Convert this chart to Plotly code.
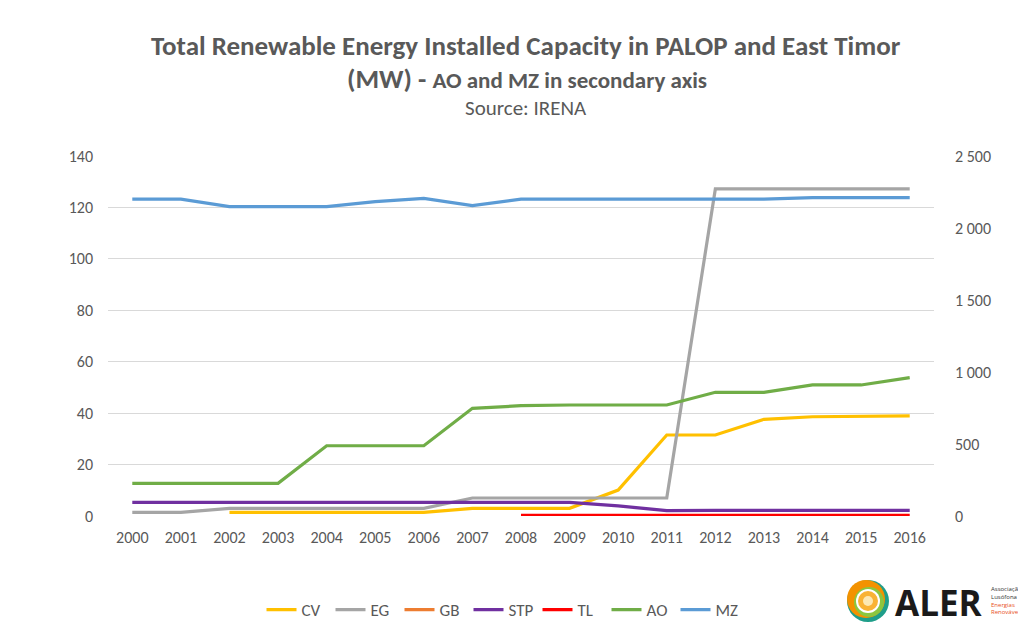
import plotly.graph_objects as go

years = [str(y) for y in range(2000, 2017)]

cv = [None, None, 1.4, 1.4, 1.4, 1.4, 1.4, 3.0, 3.0, 3.0, 10.1, 31.5, 31.5, 37.6, 38.6, 38.9, 38.9]
eg = [1.4, 1.4, 3.0, 3.0, 3.0, 3.0, 3.0, 7.0, 7.0, 7.0, 7.0, 7.0, 127.2, 127.2, 127.2, 127.2, 127.2]
gb = [None] * 17
stp = [5.3, 5.3, 5.3, 5.3, 5.3, 5.3, 5.3, 5.3, 5.3, 5.3, 3.9, 2.1, 2.2, 2.2, 2.2, 2.2, 2.2]
tl = [None, None, None, None, None, None, None, None, 0.3, 0.3, 0.3, 0.3, 0.3, 0.3, 0.3, 0.3, 0.3]
ao = [227, 227, 227, 227, 488, 488, 488, 748, 766, 771, 771, 771, 859, 859, 910, 910, 961]
mz = [2201, 2201, 2148, 2148, 2148, 2183, 2206, 2155, 2201, 2201, 2201, 2201, 2201, 2201, 2211, 2211, 2211]

left_ticks = [0, 20, 40, 60, 80, 100, 120, 140]
right_ticks = [0, 500, 1000, 1500, 2000, 2500]

FONT = "Carlito, Liberation Sans Narrow, Open Sans, sans-serif"
GREY = "#595959"

# page offset (browser body margin) and plot area in reference pixels
OFF = 8
W, H = 1026, 633
L, R, T, B = 108, 934, 156, 516


def px(x):
    return (x - L) / (R - L)


def py(y):
    return (B - y) / (B - T)


series = [
    ("CV", cv, "#FFC000", "y"),
    ("EG", eg, "#A5A5A5", "y"),
    ("GB", gb, "#ED7D31", "y"),
    ("STP", stp, "#7030A0", "y"),
    ("TL", tl, "#FF0000", "y"),
    ("AO", ao, "#70AD47", "y2"),
    ("MZ", mz, "#5B9BD5", "y2"),
]

fig = go.Figure()
for name, vals, color, ax in series:
    fig.add_trace(go.Scatter(
        x=years, y=vals, name=name, mode="lines", yaxis=ax,
        line=dict(color=color, width=3.2), connectgaps=False,
    ))

fig.update_layout(
    width=W - OFF, height=H - 2 * OFF,
    margin=dict(l=L - OFF, r=W - R, t=T - OFF, b=H - OFF - B, pad=0, autoexpand=False),
    paper_bgcolor="white", plot_bgcolor="white",
    font=dict(family=FONT, color=GREY, size=16),
    separators=". ",
    showlegend=True,
    legend=dict(orientation="h", x=px(503), xanchor="center", y=py(610), yanchor="middle",
                font=dict(size=17, color=GREY), entrywidth=24, entrywidthmode="pixels",
                tracegroupgap=0),
    xaxis=dict(type="category", range=[-0.5, 16.5], showgrid=False, showline=False,
               zeroline=False, ticks="", tickfont=dict(size=16, color=GREY),
               ticklabelstandoff=10, automargin=False, fixedrange=True),
    yaxis=dict(range=[0, 140], tickvals=left_ticks, showgrid=True, gridcolor="#D9D9D9",
               gridwidth=1, zeroline=False, showline=False, ticks="",
               tickfont=dict(size=16, color=GREY), ticklabelstandoff=14, automargin=False),
    yaxis2=dict(range=[0, 2500], tickvals=right_ticks, tickformat=",d", overlaying="y", side="right",
                showgrid=False, zeroline=False, showline=False, ticks="",
                tickfont=dict(size=16, color=GREY), ticklabelstandoff=20, automargin=False),
)

annotations = [
    dict(text="<b>Total Renewable Energy Installed Capacity in PALOP and East Timor</b>",
         x=px(526), y=py(45), font=dict(size=27, color=GREY)),
    dict(text="<b>(MW) - <span style='font-size:23px'>AO and MZ in secondary axis</span></b>",
         x=px(527), y=py(78), font=dict(size=27, color=GREY)),
    dict(text="Source: IRENA", x=px(526), y=py(108), font=dict(size=21, color=GREY)),
    dict(text="<b>ALER</b>", x=px(939), y=py(602),
         font=dict(size=35, color="#1A1A1A", family="Open Sans, sans-serif", weight=800)),
    dict(text="Associação<br>Lusófona de<br><span style='color:#E8501E'>Energias<br>Renováveis</span>",
         x=px(989), y=py(600), xanchor="left", align="left",
         font=dict(size=6, color="#333333", family="Open Sans, sans-serif")),
]
for a in annotations:
    a.setdefault("xanchor", "center")
    a.update(xref="paper", yref="paper", yanchor="middle", showarrow=False)
    fig.add_annotation(**a)

# ALER logo rings
cx, cy = 868, 601
rings = [(21, "#1F9E8A"), (19, "#F39200"), (15, "#8CC63F"), (12, "#FFFFFF"), (10, "#F9B233"), (5, "#FCE8B2")]
offsets = [(0, 0), (-2, -2), (1, 1), (0, 0), (0, 0), (0, 0)]
for (r, col), (dx, dy) in zip(rings, offsets):
    fig.add_shape(type="circle", xref="paper", yref="paper",
                  x0=px(cx + dx - r), x1=px(cx + dx + r),
                  y0=py(cy + dy + r), y1=py(cy + dy - r),
                  fillcolor=col, line=dict(width=0), layer="above")

fig.write_html("out.html")
